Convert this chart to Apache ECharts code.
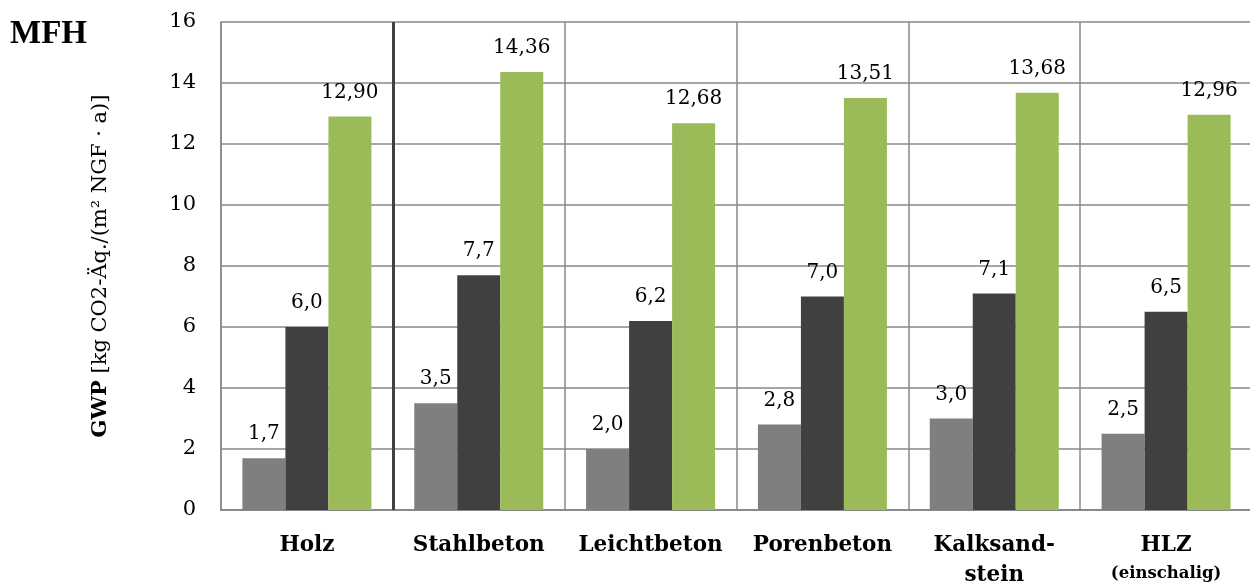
<!DOCTYPE html>
<html>
<head>
<meta charset="utf-8">
<script src="https://cdn.jsdelivr.net/npm/echarts@6/dist/echarts.min.js"></script>
<style>html,body{margin:0;padding:0;background:#fff;}#c{width:1250px;height:585px;}</style>
</head>
<body>
<div id="c"></div>
<script>
const categories = ['Holz', 'Stahlbeton', 'Leichtbeton', 'Porenbeton', 'Kalksand-\nstein', 'HLZ\n{s|(einschalig)}'];
const seriesA = [1.7, 3.5, 2.0, 2.8, 3.0, 2.5];
const seriesB = [6.0, 7.7, 6.2, 7.0, 7.1, 6.5];
const seriesC = [12.90, 14.36, 12.68, 13.51, 13.68, 12.96];
const yTicks = { min: 0, max: 16, interval: 2 };
const separatorAt = [1];

const FONT = 'DejaVu Serif';
const fmt = d => v => v.value.toFixed(d).replace('.', ',');
const labelStyle = d => ({
  show: true, position: 'top', distance: 14, color: '#000',
  fontFamily: FONT, fontSize: 20, formatter: fmt(d)
});

const chart = echarts.init(document.getElementById('c'));
chart.setOption({
  animation: false,
  backgroundColor: '#fff',
  title: {
    text: 'MFH', left: 5, top: 13,
    textStyle: { fontFamily: 'Liberation Serif', fontWeight: 'bold', fontSize: 33, color: '#000' }
  },
  grid: { left: 221, top: 22, width: 1031, bottom: 75, outerBoundsMode: 'none', containLabel: false },
  xAxis: [{
    type: 'category',
    data: categories,
    axisTick: { show: false },
    axisLine: { show: true, lineStyle: { color: '#898989', width: 2 } },
    splitLine: { show: true, lineStyle: { color: '#898989', width: 1.5 } },
    axisLabel: {
      interval: 0, margin: 20, color: '#000', fontFamily: FONT, fontWeight: 'bold',
      fontSize: 21.5, lineHeight: 30,
      rich: { s: { fontFamily: FONT, fontWeight: 'bold', fontSize: 16.5, lineHeight: 28 } }
    }
  }, {
    type: 'value', min: 0, max: 6, show: false, position: 'bottom'
  }],
  yAxis: {
    type: 'value', min: yTicks.min, max: yTicks.max, interval: yTicks.interval,
    axisLine: { show: true, lineStyle: { color: '#898989', width: 1.5 } },
    axisTick: { show: false },
    splitLine: { lineStyle: { color: '#898989', width: 1.5 } },
    axisLabel: { margin: 25, color: '#000', fontFamily: FONT, fontSize: 21 },
    name: '{b|GWP} [kg CO2-Äq./(m² NGF · a)]',
    nameLocation: 'middle', nameGap: 110, nameRotate: 90,
    nameTextStyle: {
      color: '#000', fontFamily: FONT, fontSize: 21,
      rich: { b: { fontFamily: FONT, fontWeight: 'bold', fontSize: 21, color: '#000' } }
    }
  },
  series: [
    { type: 'bar', data: seriesA, barWidth: 43, barGap: '0%', itemStyle: { color: '#7f7f7f' }, label: labelStyle(1) },
    { type: 'bar', data: seriesB, barWidth: 43, barGap: '0%', itemStyle: { color: '#404040' }, label: labelStyle(1) },
    { type: 'bar', data: seriesC, barWidth: 43, barGap: '0%', itemStyle: { color: '#9bbb59' }, label: labelStyle(2) },
    {
      type: 'line', xAxisIndex: 1, data: [], silent: true,
      markLine: {
        silent: true, symbol: 'none', label: { show: false },
        lineStyle: { color: '#404040', width: 3, type: 'solid' },
        data: separatorAt.map(v => ({ xAxis: v }))
      }
    }
  ]
});
</script>
</body>
</html>
